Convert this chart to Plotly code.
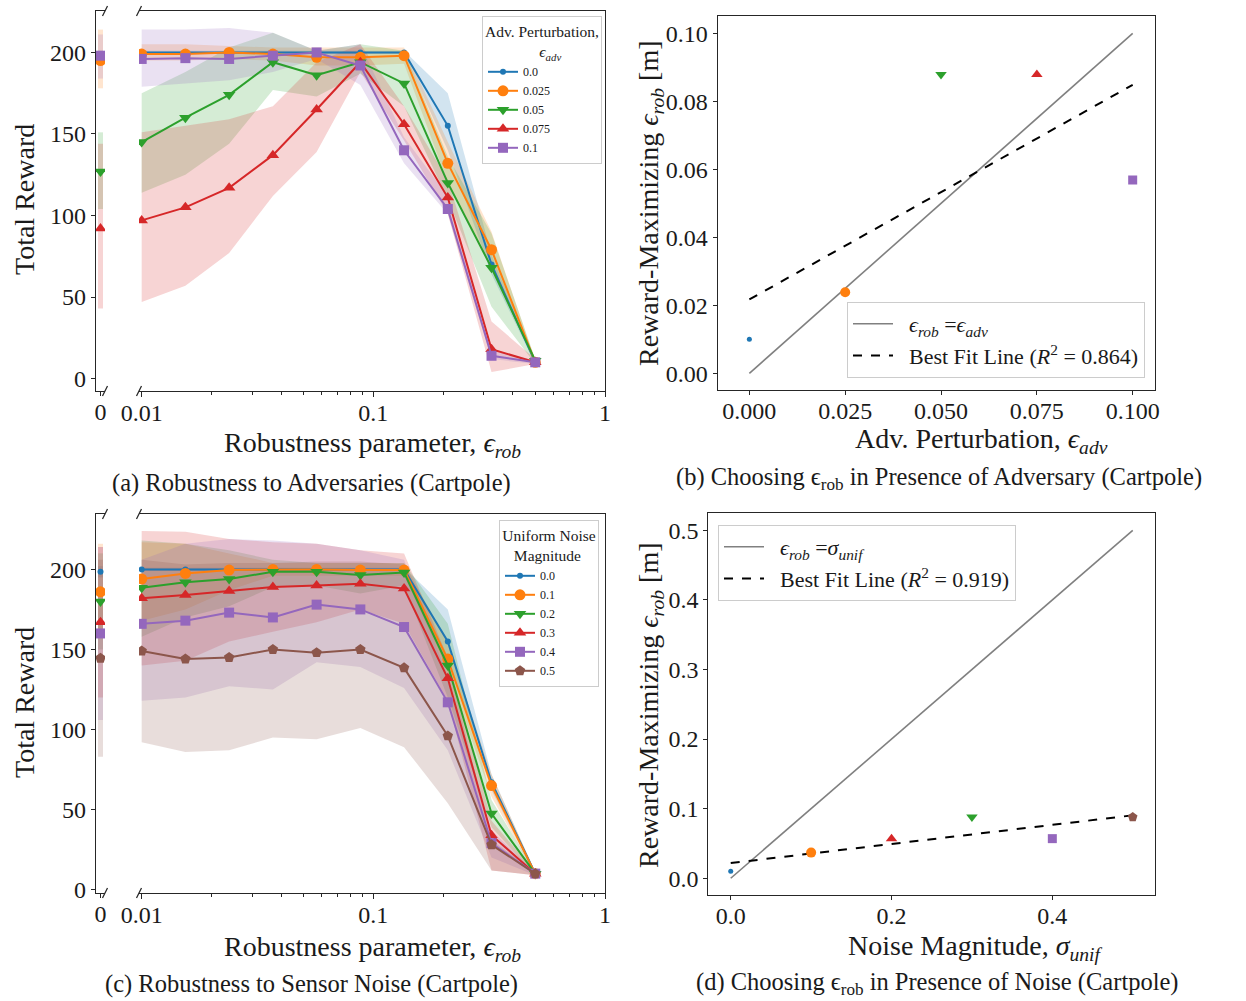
import numpy as np
import plotly.graph_objects as go

# ---------------- data ----------------
EPS_ROB = [0.01, 0.01544, 0.02385, 0.03684, 0.0569, 0.08788, 0.1357, 0.2096, 0.3237, 0.5]

# Panel (a): adversarial perturbation
A_LABELS = ["0.0", "0.025", "0.05", "0.075", "0.1"]
a_mean_00 = [200, 200, 200, 200, 200, 200, 200, 155, 70, 10]
a_mean_025 = [199, 199, 200, 199, 197, 197, 198, 132, 79, 10]
a_mean_05 = [145, 160, 174, 194, 186, 194, 181, 120, 68, 11]
a_mean_075 = [97, 105, 117, 137, 165, 194, 156, 111, 18, 10]
a_mean_10 = [196, 196.5, 196, 198, 200, 192, 140, 104, 14, 10]

a_lo_00 = [199, 199, 199, 199, 199, 199, 199, 140, 64, 9]
a_hi_00 = [201, 201, 201, 201, 201, 201, 201, 175, 76, 11]
a_lo_025 = [195, 195, 196, 195, 192, 192, 193, 120, 70, 9]
a_hi_025 = [205, 205, 204, 203, 203, 203, 203, 145, 90, 11]
a_lo_05 = [114, 125, 144, 177, 173, 187, 167, 110, 44, 9]
a_hi_05 = [175, 188, 203, 212, 201, 205, 201, 136, 89, 12]
a_lo_075 = [47, 57, 77, 112, 139, 188, 146, 101, 4, 9]
a_hi_075 = [151, 155, 159, 167, 194, 205, 167, 122, 35, 12]
a_lo_10 = [179, 181, 183, 188, 196, 180, 132, 101, 12, 9]
a_hi_10 = [214, 214, 215, 212, 201, 205, 148, 112, 18, 11]

# value at eps_rob = 0 (left broken-axis panel), per series
a0_mean = [199, 195, 127, 92, 198]
a0_lo = [197, 178, 104, 43, 184]
a0_hi = [201, 214, 151, 144, 211]

# Panel (c): uniform sensor noise
C_LABELS = ["0.0", "0.1", "0.2", "0.3", "0.4", "0.5"]
c_mean_00 = [200, 200, 200, 200, 200, 200, 200, 155, 67, 10]
c_mean_01 = [194, 197.5, 199.6, 200, 200, 199.6, 199.6, 144, 65, 10]
c_mean_02 = [188.5, 192, 194, 198.5, 198.5, 196.5, 198, 140, 47.5, 10]
c_mean_03 = [182, 184, 186.5, 189, 190, 191, 188, 132, 34, 10]
c_mean_04 = [166, 168, 173, 170, 178, 175, 164, 117, 29, 10]
c_mean_05 = [149, 144, 145, 150, 148, 150, 138.5, 96, 28, 10]

c_lo_00 = [199, 199, 199, 199, 199, 199, 199, 145, 62, 9]
c_hi_00 = [201, 201, 201, 201, 201, 201, 201, 175, 72, 11]
c_lo_01 = [168, 175, 187, 196, 196, 196, 196, 137, 58, 9]
c_hi_01 = [217, 216, 210, 204, 204, 204, 204, 154, 72, 11]
c_lo_02 = [158, 170, 177, 189, 190, 185, 190, 120, 39, 9]
c_hi_02 = [218, 216, 212, 206, 204, 204, 204, 166, 56, 11]
c_lo_03 = [140, 143, 155, 161, 167, 175, 166, 118, 12, 9]
c_hi_03 = [224, 223.5, 219, 217, 216, 212, 210, 145, 43, 11]
c_lo_04 = [118, 120, 127, 125, 142, 139, 126, 87, 20, 9]
c_hi_04 = [206, 216, 219, 218, 216, 212, 206, 133, 37, 11]
c_lo_05 = [92, 86, 87, 95, 94, 101, 89, 54, 12, 9]
c_hi_05 = [206, 203, 204, 204, 205, 205, 203, 143, 31, 11]

c0_mean = [198.5, 186, 180, 167, 160, 144.5]
c0_lo = [195, 160, 150, 120, 106, 83]
c0_hi = [202, 216, 210, 214, 214, 206]

# Panel (b): reward-maximizing eps_rob vs adversarial perturbation
b_x = [0.0, 0.025, 0.05, 0.075, 0.1]
b_y = [0.01, 0.02385, 0.08788, 0.08788, 0.0569]
b_style = [0, 1, 2, 3, 4]
b_r2 = "0.864"

# Panel (d): reward-maximizing eps_rob vs noise magnitude
d_x = [0.0, 0.1, 0.2, 0.3, 0.4, 0.5]
d_y = [0.01, 0.03684, 0.0569, 0.08788, 0.0569, 0.08788]
d_style = [0, 1, 3, 2, 4, 5]
d_r2 = "0.919"

# ---------------- styles ----------------
COLORS = ["#1f77b4", "#ff7f0e", "#2ca02c", "#d62728", "#9467bd", "#8c564b"]
SYMBOLS = ["circle", "circle", "triangle-down", "triangle-up", "square", "pentagon"]
SIZES = [6, 11, 11, 11, 10, 11]
FONT = "Liberation Serif, DejaVu Serif, serif"
AXC = "#262626"
TXT = "#1a1a1a"

W, H = 1246, 1001


def fx(p):
    return p / W


def fy(p):
    return 1 - p / H


def rgba(hexc, a):
    h = hexc.lstrip("#")
    r, g, b = int(h[0:2], 16), int(h[2:4], 16), int(h[4:6], 16)
    return f"rgba({r},{g},{b},{a})"


fig = go.Figure()


def add_robust_panel(xs, ys, legend, labels, means, los, his, m0, lo0, hi0):
    for i in range(len(means)):
        fig.add_trace(go.Scatter(
            x=list(EPS_ROB) + list(EPS_ROB)[::-1], y=list(his[i]) + list(los[i])[::-1],
            fill="toself", fillcolor=rgba(COLORS[i], 0.2), line=dict(width=0),
            mode="lines", hoverinfo="skip", showlegend=False, xaxis=xs[1], yaxis=ys[1]))
        fig.add_trace(go.Scatter(
            x=[0, 0], y=[lo0[i], hi0[i]], mode="lines",
            line=dict(color=rgba(COLORS[i], 0.2), width=5),
            hoverinfo="skip", showlegend=False, xaxis=xs[0], yaxis=ys[0]))
    for i in range(len(means)):
        fig.add_trace(go.Scatter(
            x=EPS_ROB, y=means[i], mode="lines+markers", name=labels[i],
            line=dict(color=COLORS[i], width=2),
            marker=dict(symbol=SYMBOLS[i], size=SIZES[i], color=COLORS[i], line=dict(width=0)),
            legend=legend, xaxis=xs[1], yaxis=ys[1]))
        fig.add_trace(go.Scatter(
            x=[0], y=[m0[i]], mode="markers",
            marker=dict(symbol=SYMBOLS[i], size=SIZES[i], color=COLORS[i], line=dict(width=0)),
            showlegend=False, xaxis=xs[0], yaxis=ys[0]))


add_robust_panel(["x", "x2"], ["y", "y2"], "legend", A_LABELS,
                 [a_mean_00, a_mean_025, a_mean_05, a_mean_075, a_mean_10],
                 [a_lo_00, a_lo_025, a_lo_05, a_lo_075, a_lo_10],
                 [a_hi_00, a_hi_025, a_hi_05, a_hi_075, a_hi_10],
                 a0_mean, a0_lo, a0_hi)
add_robust_panel(["x4", "x5"], ["y4", "y5"], "legend3", C_LABELS,
                 [c_mean_00, c_mean_01, c_mean_02, c_mean_03, c_mean_04, c_mean_05],
                 [c_lo_00, c_lo_01, c_lo_02, c_lo_03, c_lo_04, c_lo_05],
                 [c_hi_00, c_hi_01, c_hi_02, c_hi_03, c_hi_04, c_hi_05],
                 c0_mean, c0_lo, c0_hi)

NB = "\u00a0"


def add_choice_panel(xax, yax, legend, xs, ys, style, r2, ident_label):
    slope, intercept = np.polyfit(np.array(xs), np.array(ys), 1)
    xline = [xs[0], xs[-1]]
    fig.add_trace(go.Scatter(x=xline, y=xline, mode="lines", name=NB * 2 + ident_label,
                             line=dict(color="#808080", width=1.6),
                             legend=legend, xaxis=xax, yaxis=yax))
    fig.add_trace(go.Scatter(x=xline, y=[intercept + slope * v for v in xline], mode="lines",
                             name=NB * 2 + f"Best Fit Line (<i>R</i><sup>2</sup> = {r2})",
                             line=dict(color="black", width=2, dash="dash"),
                             legend=legend, xaxis=xax, yaxis=yax))
    for i in range(len(xs)):
        k = style[i]
        fig.add_trace(go.Scatter(
            x=[xs[i]], y=[ys[i]], mode="markers", showlegend=False,
            marker=dict(symbol=SYMBOLS[k], size=SIZES[k] - 1, color=COLORS[k], line=dict(width=0)),
            xaxis=xax, yaxis=yax))


add_choice_panel("x3", "y3", "legend2", b_x, b_y, b_style, b_r2,
                 "<i>ϵ<sub>rob</sub></i> =<i>ϵ<sub>adv</sub></i>")
add_choice_panel("x6", "y6", "legend4", d_x, d_y, d_style, d_r2,
                 "<i>ϵ<sub>rob</sub></i> =<i>σ<sub>unif</sub></i>")

# ---------------- axes ----------------
TICKF = dict(family=FONT, size=24, color=TXT)
base = dict(showgrid=False, zeroline=False, linecolor=AXC, linewidth=1.2,
            tickcolor=AXC, tickfont=TICKF, ticks="outside", ticklen=4, tickwidth=1)
XSO = -5

minor_vals = [0.02, 0.03, 0.04, 0.05, 0.06, 0.07, 0.08, 0.09,
              0.2, 0.3, 0.4, 0.5, 0.6, 0.7, 0.8, 0.9]


def left_axes(nsmall, nmain, top, bottom, yrange):
    ydom = [fy(bottom), fy(top)]
    suf = "" if nsmall == 1 else str(nsmall)
    fig.layout["xaxis" + suf] = dict(base, domain=[fx(96), fx(105)], range=[-1, 1], anchor="y" + suf,
                                     showline=True, mirror=True, tickvals=[0], ticktext=["0"],
                                     ticklabelstandoff=XSO)
    fig.layout["yaxis" + suf] = dict(base, domain=ydom, range=yrange, anchor="x" + suf,
                                     showline=True, tickvals=[0, 50, 100, 150, 200])
    fig.layout[f"xaxis{nmain}"] = dict(base, domain=[fx(139), fx(605)], type="log",
                                       range=[-2.0116, 0], anchor=f"y{nmain}",
                                       showline=True, mirror=True, tickvals=[0.01, 0.1, 1],
                                       ticktext=["0.01", "0.1", "1"], ticklen=5,
                                       ticklabelstandoff=XSO,
                                       minor=dict(tickvals=minor_vals, ticks="outside", ticklen=3,
                                                  tickcolor=AXC, tickwidth=1))
    fig.layout[f"yaxis{nmain}"] = dict(base, domain=ydom, range=yrange, anchor=f"x{nmain}",
                                       side="right", showline=True, ticks="", showticklabels=False)


left_axes(1, 2, 11, 391, [-7.6, 225.4])
left_axes(4, 5, 514, 893, [-2.1, 234.6])

fig.layout["xaxis3"] = dict(base, domain=[fx(717.7), fx(1155)], range=[-0.00826, 0.10582], anchor="y3",
                            showline=True, mirror=True, tickvals=[0, 0.025, 0.05, 0.075, 0.1],
                            ticktext=["0.000", "0.025", "0.050", "0.075", "0.100"],
                            ticklabelstandoff=XSO)
fig.layout["yaxis3"] = dict(base, domain=[fy(390), fy(15.7)], range=[-0.0049, 0.1052], anchor="x3",
                            showline=True, mirror=True, tickvals=[0, 0.02, 0.04, 0.06, 0.08, 0.1],
                            ticktext=["0.00", "0.02", "0.04", "0.06", "0.08", "0.10"])
fig.layout["xaxis6"] = dict(base, domain=[fx(708.3), fx(1155)], range=[-0.0279, 0.5277], anchor="y6",
                            showline=True, mirror=True, tickvals=[0, 0.2, 0.4],
                            ticktext=["0.0", "0.2", "0.4"], ticklabelstandoff=XSO)
fig.layout["yaxis6"] = dict(base, domain=[fy(895), fy(513)], range=[-0.0241, 0.5249], anchor="x6",
                            showline=True, mirror=True, tickvals=[0, 0.1, 0.2, 0.3, 0.4, 0.5],
                            ticktext=["0.0", "0.1", "0.2", "0.3", "0.4", "0.5"])

# ---------------- legends ----------------
LTF = dict(family=FONT, size=15.5, color=TXT)
LEG_SMALL = dict(font=dict(family=FONT, size=12, color=TXT), bgcolor="rgba(255,255,255,0.85)",
                 bordercolor="#cccccc", borderwidth=1, xref="paper", yref="paper",
                 xanchor="right", yanchor="top", itemwidth=30, tracegroupgap=0)
fig.layout.legend = dict(LEG_SMALL, x=fx(602), y=fy(16),
                         title=dict(text="Adv. Perturbation,<br>" + NB * 14 + "<i>ϵ<sub>adv</sub></i>",
                                    side="top center", font=LTF))
fig.layout.legend3 = dict(LEG_SMALL, x=fx(599), y=fy(520),
                          title=dict(text="Uniform Noise<br>" + NB * 3 + "Magnitude",
                                     side="top center", font=LTF))
LEG_BIG = dict(font=dict(family=FONT, size=22, color=TXT), bgcolor="rgba(255,255,255,0.85)",
               bordercolor="#cccccc", borderwidth=1, xref="paper", yref="paper", itemwidth=40)
fig.layout.legend2 = dict(LEG_BIG, x=fx(1145), y=fy(378), xanchor="right", yanchor="bottom")
fig.layout.legend4 = dict(LEG_BIG, x=fx(718), y=fy(525), xanchor="left", yanchor="top")

# ---------------- annotations (axis titles, captions) ----------------
ann = []


def text(x, y, s, size, angle=0):
    ann.append(dict(x=fx(x), y=fy(y), xref="paper", yref="paper", text=s, showarrow=False,
                    textangle=angle, xanchor="center", yanchor="middle",
                    font=dict(family=FONT, size=size, color=TXT)))


TS = 28
text(24, 200, "Total Reward", TS, -90)
text(372, 445, "Robustness parameter, <i>ϵ<sub>rob</sub></i>", TS)
text(24, 703, "Total Reward", TS, -90)
text(372, 948, "Robustness parameter, <i>ϵ<sub>rob</sub></i>", TS)
text(650, 203, "Reward-Maximizing <i>ϵ<sub>rob</sub></i> [m]", TS, -90)
text(981, 440, "Adv. Perturbation, <i>ϵ<sub>adv</sub></i>", TS)
text(650, 705, "Reward-Maximizing <i>ϵ<sub>rob</sub></i> [m]", TS, -90)
text(975, 947, "Noise Magnitude, <i>σ<sub>unif</sub></i>", TS)

CS = 24.5
text(311, 483, "(a) Robustness to Adversaries (Cartpole)", CS)
text(939, 478, "(b) Choosing ϵ<sub>rob</sub> in Presence of Adversary (Cartpole)", CS)
text(311, 984, "(c) Robustness to Sensor Noise (Cartpole)", CS)
text(938, 983, "(d) Choosing ϵ<sub>rob</sub> in Presence of Noise (Cartpole)", CS)

# broken-axis marks
shapes = []
for top, bottom in [(11, 391), (514, 893)]:
    for xp in [105, 139]:
        for yp in [top, bottom]:
            shapes.append(dict(type="line", xref="paper", yref="paper",
                               x0=fx(xp - 2.5), y0=fy(yp + 5), x1=fx(xp + 2.5), y1=fy(yp - 5),
                               line=dict(color=AXC, width=1.3)))

fig.update_layout(width=W, height=H, margin=dict(l=0, r=0, t=0, b=0), autosize=False,
                  paper_bgcolor="white", plot_bgcolor="white", template="none",
                  annotations=ann, shapes=shapes, font=dict(family=FONT, color=TXT))

fig.write_html("out.html", config={"displayModeBar": False},
               post_script="document.body.style.margin='0';document.body.style.overflow='hidden';")
